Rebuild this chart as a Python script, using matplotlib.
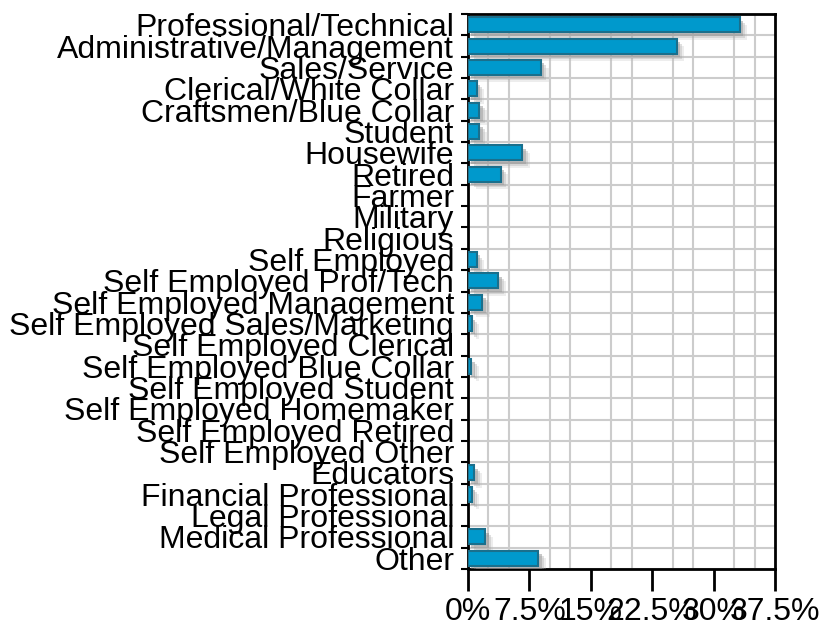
#!/usr/bin/env python3
"""Occupation share bar chart."""

import matplotlib
matplotlib.use("Agg")
import matplotlib.pyplot as plt
import matplotlib.patheffects as pe
from matplotlib.ticker import FixedLocator, FuncFormatter
import numpy as np

categories = [
    "Professional/Technical", "Administrative/Management", "Sales/Service",
    "Clerical/White Collar", "Craftsmen/Blue Collar", "Student", "Housewife",
    "Retired", "Farmer", "Military", "Religious", "Self Employed",
    "Self Employed Prof/Tech", "Self Employed Management",
    "Self Employed Sales/Marketing", "Self Employed Clerical",
    "Self Employed Blue Collar", "Self Employed Student",
    "Self Employed Homemaker", "Self Employed Retired", "Self Employed Other",
    "Educators", "Financial Professional", "Legal Professional",
    "Medical Professional", "Other",
]
share_pct = [
    33.2, 25.5, 8.9, 1.05, 1.4, 1.4, 6.6, 4.0, 0.0, 0.0, 0.0, 1.05,
    3.7, 1.75, 0.45, 0.0, 0.4, 0.0, 0.0, 0.0, 0.0,
    0.75, 0.45, 0.0, 2.1, 8.6,
]
major_ticks = [0, 7.5, 15, 22.5, 30, 37.5]

plt.rcParams["font.family"] = ["Liberation Sans", "DejaVu Sans"]

fig = plt.figure(figsize=(8.25, 6.23), dpi=100)
ax = fig.add_axes([0.5673, 0.0867, 0.9394 - 0.5673, 0.9775 - 0.0867])

n = len(categories)
ypos = np.arange(n)
shadow = [pe.SimplePatchShadow(offset=(2.5, -2.5), shadow_rgbFace="#777777", alpha=0.4),
          pe.SimplePatchShadow(offset=(4, -4), shadow_rgbFace="#999999", alpha=0.3),
          pe.SimplePatchShadow(offset=(5.5, -5.5), shadow_rgbFace="#bbbbbb", alpha=0.25),
          pe.Normal()]
bars = ax.barh(ypos, share_pct, height=0.7, color="#0099cc",
               edgecolor="#1a6f8c", linewidth=1.5, zorder=3)
for b in bars:
    if b.get_width() > 0:
        b.set_path_effects(shadow)
    else:
        b.set_visible(False)

ax.set_xlim(0, 37.5)
ax.set_ylim(n - 0.5, -0.5)

ax.xaxis.set_major_locator(FixedLocator(major_ticks))
ax.xaxis.set_minor_locator(FixedLocator(np.arange(0, 37.6, 2.5)))
ax.xaxis.set_major_formatter(FuncFormatter(lambda v, _: f"{v:g}%"))
ax.tick_params(axis="x", which="major", length=16, width=2, labelsize=23, pad=4)
ax.tick_params(axis="x", which="minor", length=0)
ax.grid(axis="x", which="minor", color="#cccccc", linewidth=1.5, zorder=0)

ax.set_yticks(np.arange(-0.5, n, 1), minor=False)
ax.set_yticklabels([])
ax.set_yticks(ypos, minor=True)
ax.set_yticklabels(categories, minor=True)
ax.tick_params(axis="y", which="major", length=5, width=1.5)
ax.tick_params(axis="y", which="minor", length=0, labelsize=23, pad=10)
for lab in ax.get_yticklabels(minor=True):
    lab.set_va("center_baseline")
ax.grid(axis="y", which="major", color="#cccccc", linewidth=1.5, zorder=0)
ax.set_axisbelow(True)

for sp in ax.spines.values():
    sp.set_linewidth(2)
    sp.set_color("black")

fig.savefig("out.png", dpi=100)
